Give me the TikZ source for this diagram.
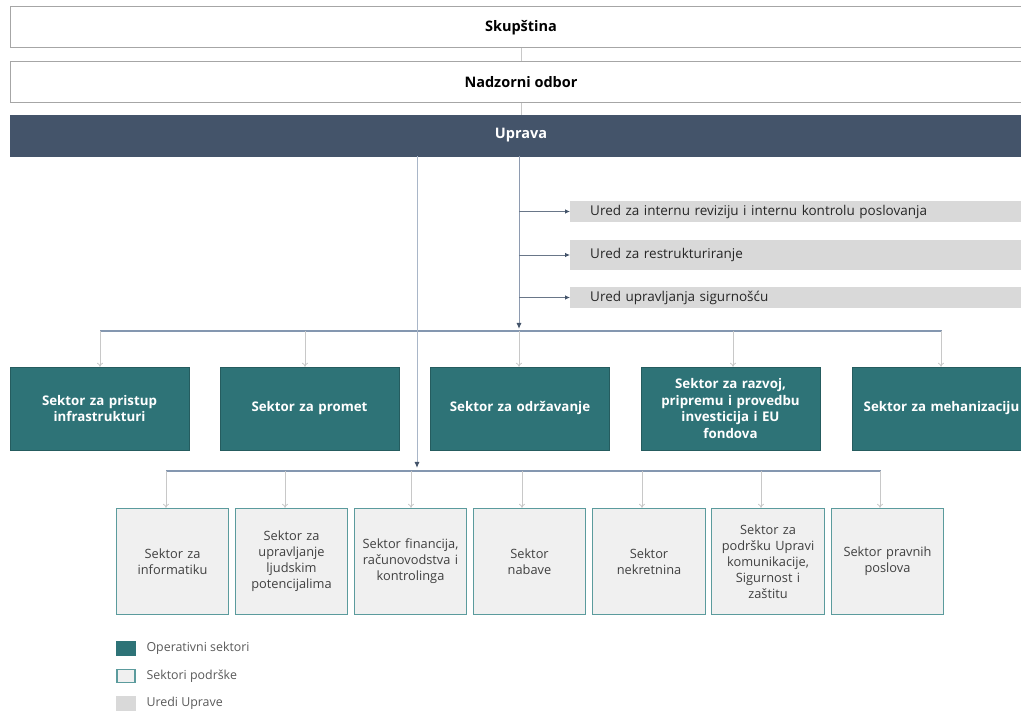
\documentclass[tikz,border=0pt]{standalone}
\usepackage{fontspec}
\setmainfont{Open Sans}
\usetikzlibrary{arrows.meta}
\definecolor{upr}{HTML}{44546A}
\definecolor{teal}{HTML}{2E7377}
\definecolor{suppfill}{HTML}{F0F0F0}
\definecolor{suppline}{HTML}{5B9B9D}
\definecolor{office}{HTML}{D9D9D9}
\definecolor{lightline}{HTML}{C8C8C8}
\definecolor{midline}{HTML}{8E9BB0}
\definecolor{busline}{HTML}{8497B0}
\definecolor{topline}{HTML}{A6A6A6}
\definecolor{txtgray}{HTML}{595959}
\begin{document}
\begin{tikzpicture}[x=1pt,y=-1pt,
  topbox/.style={draw=topline,line width=1pt,fill=white,minimum width=1022pt,minimum height=41pt,font=\fontsize{14.5}{16}\selectfont\bfseries},
  upbox/.style={draw=upr,fill=upr,minimum width=1022pt,minimum height=41pt,text=white,font=\fontsize{14.5}{16}\selectfont\bfseries},
  officebox/.style={fill=office,anchor=west,minimum width=540pt,text width=500pt,align=left,inner xsep=20pt,font=\fontsize{13.5}{15}\selectfont,text=black!85},
  opbox/.style={fill=teal,draw=teal!80!black,minimum width=179pt,minimum height=83pt,text width=170pt,align=center,text=white,font=\fontsize{13.3}{16.5}\selectfont\bfseries},
  suppbox/.style={fill=suppfill,draw=suppline,line width=1.3pt,minimum width=108pt,minimum height=106pt,text width=106pt,align=center,text=black!75,font=\fontsize{12.8}{16}\selectfont},
  thinline/.style={draw=lightline,line width=0.8pt},
  midarrow/.style={draw=midline,line width=1pt,-{Latex[length=6pt,width=5pt,color=upr]}},
  offarrow/.style={draw=upr!80,line width=0.8pt,-{Latex[length=5pt,width=4.5pt,color=upr]}},
  lightarrow/.style={draw=lightline,line width=0.8pt,-{To[length=4pt,width=6pt]}},
  bus/.style={draw=busline,line width=2pt},
  legtext/.style={anchor=west,text=txtgray,font=\fontsize{12.4}{14}\selectfont}
]
\useasboundingbox (0,0) rectangle (1021,711);
\clip (0,0) rectangle (1021,711);

% top boxes
\node[topbox] (skup) at (521,27.5) {Skupština};
\node[topbox] (nad) at (521,82) {Nadzorni odbor};
\node[upbox] (upr) at (521,135.5) {Uprava};
\draw[thinline] (skup.south) -- (nad.north);
\draw[thinline] (nad.south) -- (upr.north);

% offices
\node[officebox] (o1) at (570,211.5) {Ured za internu reviziju i internu kontrolu poslovanja};
\node[officebox,minimum height=30pt] (o2) at (570,255) {Ured za restrukturiranje};
\node[officebox] (o3) at (570,297.5) {Ured upravljanja sigurnošću};

% junctions
\coordinate (j1) at (519,329);
\coordinate (j2) at (417,468);
\coordinate (b1l) at (100,331);
\coordinate (b1r) at (942,331);
\coordinate (b2l) at (166,471);
\coordinate (b2r) at (881,471);

% operative sectors
\node[opbox] (s1) at (99.5,408.5) {Sektor za pristup\\infrastrukturi};
\node[opbox] (s2) at (309.5,408.5) {Sektor za promet};
\node[opbox] (s3) at (520,408.5) {Sektor za održavanje};
\node[opbox] (s4) at (730.5,408.5) {Sektor za razvoj,\\pripremu i provedbu\\investicija i EU\\fondova};
\node[opbox] (s5) at (941.5,408.5) {Sektor za mehanizaciju};

% support sectors
\node[suppbox] (p1) at (172.5,561.5) {Sektor za\\informatiku};
\node[suppbox] (p2) at (291.5,561.5) {Sektor za\\upravljanje\\ljudskim\\potencijalima};
\node[suppbox] (p3) at (410.5,561.5) {Sektor financija,\\računovodstva i\\kontrolinga};
\node[suppbox] (p4) at (529.5,561.5) {Sektor\\nabave};
\node[suppbox] (p5) at (649,561.5) {Sektor\\nekretnina};
\node[suppbox] (p6) at (768,561.5) {Sektor za\\podršku Upravi\\komunikacije,\\Sigurnost i\\zaštitu};
\node[suppbox] (p7) at (887.5,561.5) {Sektor pravnih\\poslova};

% bus 1
\draw[bus] (b1l) -- (b1r);
\foreach \s/\x in {s1/100,s2/305,s3/519,s4/733,s5/941}
  \draw[lightarrow] (b1l -| \x,0) -- (\s.north -| \x,0);

% bus 2
\draw[bus] (b2l) -- (b2r);
\foreach \p/\x in {p1/166,p2/285,p3/411,p4/522,p5/642,p6/761,p7/880}
  \draw[lightarrow] (b2l -| \x,0) -- (\p.north -| \x,0);

% lines from Uprava
\draw[midarrow,draw=busline!70] (upr.south -| j2) -- (j2);
\draw[midarrow] (upr.south -| j1) -- (j1);
\foreach \o in {o1,o2,o3}
  \draw[offarrow] (\o.west -| j1) -- (\o.west);

% legend
\node[fill=teal,minimum width=20pt,minimum height=15pt,inner sep=0pt] (l1) at (126,648.5) {};
\node[legtext] (lt1) at (143,648.5) {Operativni sektori};
\node[fill=suppfill,draw=suppline,line width=1.3pt,minimum width=18pt,minimum height=13pt,inner sep=0pt] (l2) at (126,676) {};
\node[legtext] (lt2) at (143,676) {Sektori podrške};
\node[fill=office,minimum width=20pt,minimum height=15pt,inner sep=0pt] (l3) at (126,703) {};
\node[legtext] (lt3) at (143,703) {Uredi Uprave};
\end{tikzpicture}
\end{document}
